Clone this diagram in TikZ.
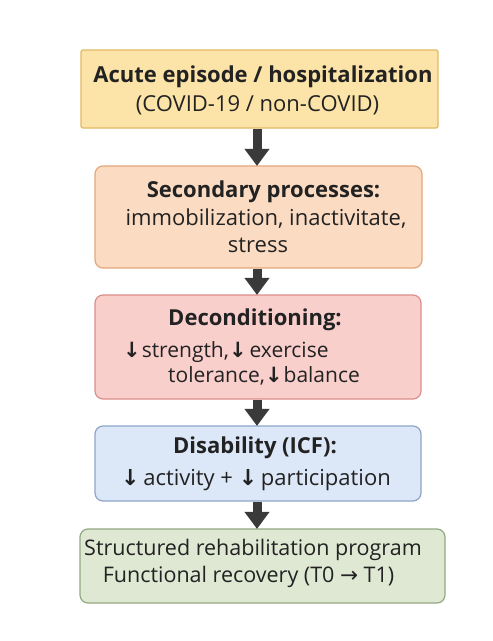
\documentclass[tikz,border=0pt]{standalone}
\usepackage{fontspec}
\setmainfont{Open Sans}
\newfontfamily\arr{DejaVu Sans}
\usetikzlibrary{arrows.meta}
\definecolor{txt}{HTML}{222222}
\definecolor{f1}{HTML}{FCE4A8}\definecolor{d1}{HTML}{E2B864}
\definecolor{f2}{HTML}{FBDCC3}\definecolor{d2}{HTML}{E5A67A}
\definecolor{f3}{HTML}{F9CFCC}\definecolor{d3}{HTML}{DC8E89}
\definecolor{f4}{HTML}{DCE7F7}\definecolor{d4}{HTML}{8FA5C8}
\definecolor{f5}{HTML}{DFE8D3}\definecolor{d5}{HTML}{92A882}
\definecolor{arrc}{HTML}{3A3A3A}
\newcommand{\dn}{{\arr\bfseries ↓}}
\begin{document}
\begin{tikzpicture}[x=1pt,y=-1pt,
  box/.style={draw=#1, line width=1.2pt, rounded corners=8pt, inner sep=0pt},
  tt/.style={anchor=base, inner sep=0pt, text=txt, font=\fontsize{22}{26}\selectfont\bfseries},
  tl/.style={anchor=base, inner sep=0pt, text=txt, font=\fontsize{22}{26}\selectfont},
  flow/.style={draw=arrc, line width=9pt, -{Triangle[width=24pt,length=17pt]}, shorten >=-0.5pt}
]
\useasboundingbox (0,0) rectangle (493,641);
\fill[white] (0,0) rectangle (493,641);
% boxes
\node[box=d1, fill=f1, rounded corners=2pt, minimum width=357pt, minimum height=78pt] (b1) at (259.5,89) {};
\node[box=d2, fill=f2, minimum width=327pt, minimum height=102pt] (b2) at (258.5,217) {};
\node[box=d3, fill=f3, minimum width=326pt, minimum height=104pt] (b3) at (258,347) {};
\node[box=d4, fill=f4, minimum width=326pt, minimum height=75pt] (b4) at (258,463.5) {};
\node[box=d5, fill=f5, minimum width=365pt, minimum height=74pt] (b5) at (262.5,566) {};
% texts
\node[tt] (t1a) at (263,82) {Acute episode / hospitalization};
\node[tl] (t1b) at (257.5,111) {(COVID-19 / non-COVID)};
\node[tt] (t2a) at (263.5,197) {Secondary processes:};
\node[tl] (t2b) at (266,225) {immobilization, inactivitate,};
\node[tl] (t2c) at (258,252) {stress};
\node[tt] (t3a) at (255,325) {Deconditioning:};
\node[tl, font=\fontsize{21}{25}\selectfont, anchor=base west] (t3b) at (123,357) {\dn\hspace{1pt}strength,\dn\hspace{3pt}exercise};
\node[tl, font=\fontsize{21}{25}\selectfont, anchor=base west] (t3c) at (168,382) {tolerance,\dn\hspace{1pt}balance};
\node[tt] (t4a) at (255,453) {Disability (ICF):};
\node[tl] (t4b) at (256,485) {\dn\,activity + \dn\,participation};
\node[tl, font=\fontsize{21.5}{25}\selectfont] (t5a) at (253,555) {Structured rehabilitation program};
\node[tl, font=\fontsize{21.5}{25}\selectfont] (t5b) at (248.5,582) {Functional recovery (T0 {\arr →} T1)};
% arrows
\draw[flow] (b1.south -| 257,0) -- (b2.north -| 257,0);
\draw[flow] (b2.south -| 257,0) -- (b3.north -| 257,0);
\draw[flow] (b3.south -| 257,0) -- (b4.north -| 257,0);
\draw[flow] (b4.south -| 257,0) -- (b5.north -| 257,0);
\end{tikzpicture}
\end{document}
